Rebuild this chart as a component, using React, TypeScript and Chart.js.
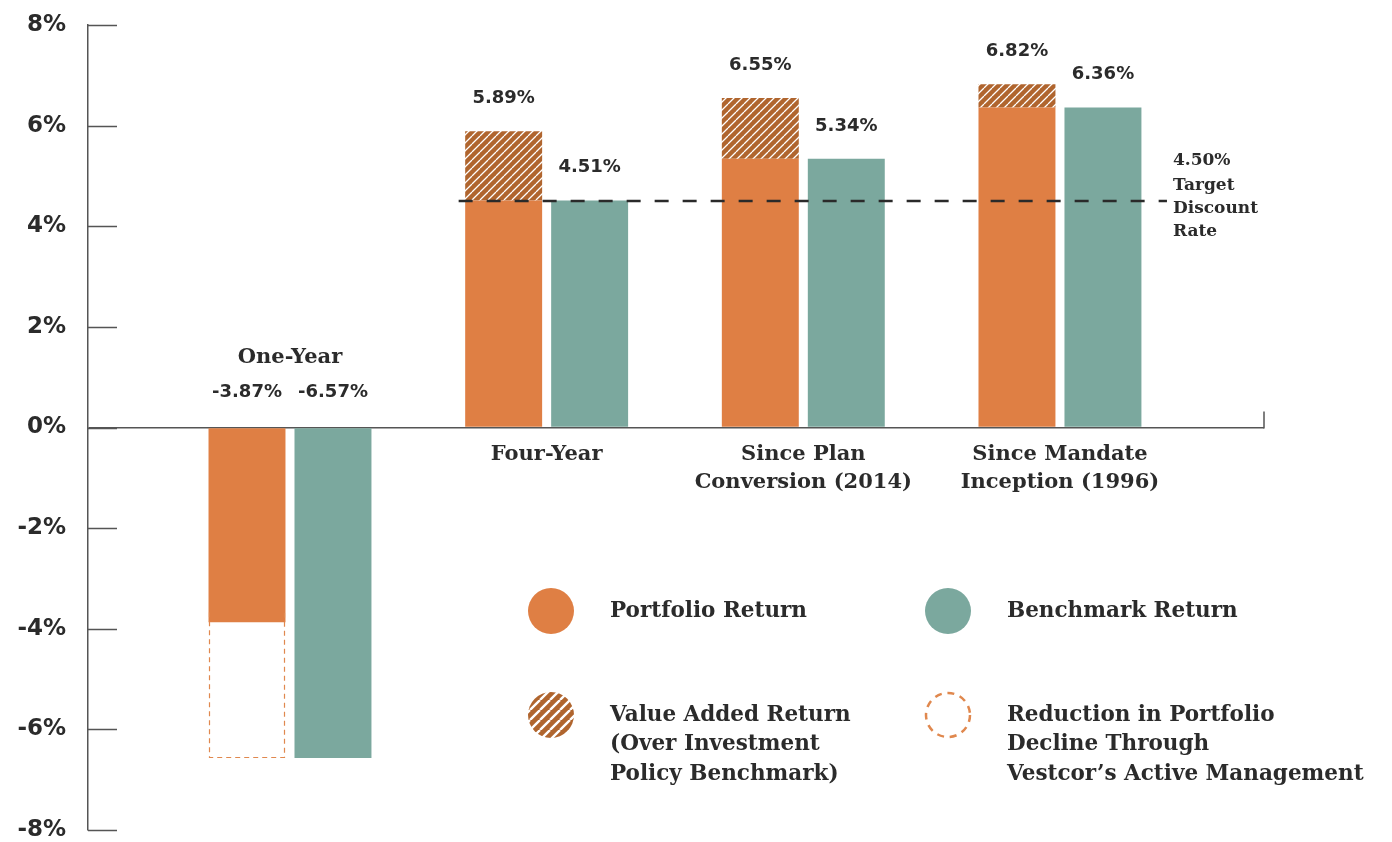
import React, { useEffect, useRef } from "react";
import { Chart, registerables } from "chart.js";
Chart.register(...registerables);

const categoryLines: string[][] = [
  ["One-Year"],
  ["Four-Year"],
  ["Since Plan", "Conversion (2014)"],
  ["Since Mandate", "Inception (1996)"],
];
const portfolioReturn = [-3.87, 5.89, 6.55, 6.82];
const benchmarkReturn = [-6.57, 4.51, 5.34, 6.36];
const targetDiscountRate = 4.5;
const targetLabelLines = ["4.50%", "Target", "Discount", "Rate"];
const yTicks = [-8, -6, -4, -2, 0, 2, 4, 6, 8];
const legendItems = [
  { kind: "solid-orange", lines: ["Portfolio Return"] },
  { kind: "solid-teal", lines: ["Benchmark Return"] },
  { kind: "hatch", lines: ["Value Added Return", "(Over Investment", "Policy Benchmark)"] },
  { kind: "dashed", lines: ["Reduction in Portfolio", "Decline Through", "Vestcor\u2019s Active Management"] },
];

const ORANGE = "#df7f44";
const TEAL = "#7ba89e";
const BROWN = "#b0652e";
const DASH_ORANGE = "#e0884e";
const TEXT = "#2b2b2b";
const AXIS = "#555555";
const SLAB = '"DejaVu Serif", serif';
const SANS = '"DejaVu Sans", sans-serif';

function makeHatch(period: number, lineW: number, bg: string, fg: string) {
  const c = document.createElement("canvas");
  c.width = period;
  c.height = period;
  const g = c.getContext("2d")!;
  g.fillStyle = bg;
  g.fillRect(0, 0, period, period);
  g.strokeStyle = fg;
  g.lineWidth = lineW;
  g.beginPath();
  for (let k = -1; k <= 1; k++) {
    g.moveTo(k * period, period);
    g.lineTo(k * period + period, 0);
  }
  g.stroke();
  return g.createPattern(c, "repeat")!;
}

export default function App() {
  const ref = useRef<HTMLCanvasElement>(null);
  useEffect(() => {
    const canvas = ref.current!;
    const ctx0 = canvas.getContext("2d")!;
    const barHatch = makeHatch(8, 1.3, BROWN, "#ffffff");
    const legendHatch = makeHatch(10, 2.4, BROWN, "#ffffff");

    const base = portfolioReturn.map((p, i) => (p >= 0 ? Math.min(p, benchmarkReturn[i]) : p));
    const added = portfolioReturn.map((p, i) => (p >= 0 && p > benchmarkReturn[i] ? p - benchmarkReturn[i] : 0));
    const reduction = portfolioReturn.map((p, i) => (p < 0 && benchmarkReturn[i] < p ? benchmarkReturn[i] - p : 0));
    const pts = (arr: number[]) => arr.map((v, i) => ({ x: i, y: v }));

    const decor = {
      id: "decor",
      beforeDatasetsDraw(chart: any) {
        const { ctx, chartArea, scales } = chart;
        const y = scales.y;
        ctx.save();
        ctx.strokeStyle = AXIS;
        ctx.lineWidth = 1.5;
        ctx.beginPath();
        for (const v of yTicks) {
          const py = Math.round(y.getPixelForValue(v)) + 0.5;
          ctx.moveTo(chartArea.left, py);
          ctx.lineTo(chartArea.left + 29, py);
        }
        const z = Math.round(y.getPixelForValue(0)) + 0.5;
        ctx.moveTo(chartArea.right, z);
        ctx.lineTo(chartArea.right, z - 17);
        ctx.stroke();
        ctx.restore();
      },
      afterDatasetsDraw(chart: any) {
        const { ctx, scales } = chart;
        const x = scales.x;
        const y = scales.y;
        const zero = y.getPixelForValue(0);
        ctx.save();
        // dashed outline for reduction segment
        const mRed = chart.getDatasetMeta(2);
        ctx.strokeStyle = DASH_ORANGE;
        ctx.lineWidth = 1.2;
        ctx.setLineDash([5, 4]);
        mRed.data.forEach((el: any, i: number) => {
          if (!reduction[i]) return;
          const p = el.getProps(["x", "y", "base", "width"], true);
          const left = Math.round(p.x - p.width / 2) + 0.5;
          const right = Math.round(p.x + p.width / 2) - 0.5;
          const top = Math.min(p.y, p.base) - 10;
          const bottom = Math.round(Math.max(p.y, p.base)) - 0.5;
          ctx.beginPath();
          ctx.moveTo(left, top);
          ctx.lineTo(left, bottom);
          ctx.lineTo(right, bottom);
          ctx.lineTo(right, top);
          ctx.stroke();
        });
        // target discount line
        const ty = y.getPixelForValue(targetDiscountRate);
        const x1 = x.getPixelForValue(1) - 88;
        const x2 = x.getPixelForValue(3) + 107;
        ctx.strokeStyle = "#2a2a2a";
        ctx.lineWidth = 2.5;
        ctx.setLineDash([14, 14]);
        ctx.beginPath();
        ctx.moveTo(x1, ty);
        ctx.lineTo(x2, ty);
        ctx.stroke();
        ctx.setLineDash([]);
        ctx.fillStyle = TEXT;
        ctx.textAlign = "left";
        ctx.textBaseline = "middle";
        ctx.font = `bold 17px ${SLAB}`;
        const tyLines = [ty - 41, ty - 16, ty + 7, ty + 30];
        targetLabelLines.forEach((t, k) => ctx.fillText(t, x2 + 6, tyLines[k]));

        // value labels
        const mBase = chart.getDatasetMeta(0);
        const mBench = chart.getDatasetMeta(3);
        ctx.font = `bold 18px ${SANS}`;
        ctx.textAlign = "center";
        portfolioReturn.forEach((v, i) => {
          const cx = mBase.data[i].x;
          const py = v >= 0 ? y.getPixelForValue(v) - 33 : zero - 35;
          ctx.fillText(v.toFixed(2) + "%", cx, py);
        });
        benchmarkReturn.forEach((v, i) => {
          const cx = mBench.data[i].x;
          const py = v >= 0 ? y.getPixelForValue(v) - 33 : zero - 35;
          ctx.fillText(v.toFixed(2) + "%", cx, py);
        });
        // category labels
        ctx.font = `bold 21px ${SLAB}`;
        categoryLines.forEach((lines, i) => {
          const cx = x.getPixelForValue(i);
          const neg = portfolioReturn[i] < 0;
          lines.forEach((t, k) => {
            const py = neg ? zero - 70 - (lines.length - 1 - k) * 28 : zero + 27 + k * 28;
            ctx.fillText(t, cx, py);
          });
        });
        ctx.restore();
      },
      afterDraw(chart: any) {
        const { ctx } = chart;
        ctx.save();
        const pos = [
          [551, 611],
          [948, 611],
          [551, 715],
          [948, 715],
        ];
        legendItems.forEach((it, i) => {
          const [cx, cy] = pos[i];
          ctx.beginPath();
          ctx.arc(cx, cy, 23, 0, Math.PI * 2);
          if (it.kind === "solid-orange") {
            ctx.fillStyle = ORANGE;
            ctx.fill();
          } else if (it.kind === "solid-teal") {
            ctx.fillStyle = TEAL;
            ctx.fill();
          } else if (it.kind === "hatch") {
            ctx.fillStyle = legendHatch;
            ctx.fill();
          } else {
            ctx.beginPath();
            ctx.arc(cx, cy, 22, 0, Math.PI * 2);
            ctx.strokeStyle = DASH_ORANGE;
            ctx.lineWidth = 2.5;
            ctx.setLineDash([7, 5.8]);
            ctx.stroke();
            ctx.setLineDash([]);
          }
          ctx.fillStyle = TEXT;
          ctx.font = `bold 21.5px ${SLAB}`;
          ctx.textAlign = "left";
          ctx.textBaseline = "middle";
          it.lines.forEach((t, k) => ctx.fillText(t, cx + 59, cy + k * 29.5));
        });
        ctx.restore();
      },
    };

    const chart = new Chart(ctx0, {
      type: "bar",
      data: {
        datasets: [
          { label: "Portfolio Return", data: pts(base), backgroundColor: ORANGE, stack: "p" },
          { label: "Value Added Return", data: pts(added), backgroundColor: barHatch as any, stack: "p" },
          { label: "Reduction", data: pts(reduction), backgroundColor: "rgba(0,0,0,0)", stack: "p" },
          { label: "Benchmark Return", data: pts(benchmarkReturn), backgroundColor: TEAL, stack: "b" },
        ] as any,
      },
      options: {
        responsive: false,
        animation: false,
        categoryPercentage: 0.67,
        barPercentage: 0.895,
        layout: { padding: { left: 0, right: 128, top: 25, bottom: 12 } },
        plugins: { legend: { display: false }, tooltip: { enabled: false } },
        scales: {
          x: {
            type: "linear",
            display: false,
            offset: false,
            min: -0.787,
            max: 3.795,
            ticks: { stepSize: 1, includeBounds: false },
          },
          y: {
            min: -8,
            max: 8,
            afterBuildTicks: (s: any) => {
              s.ticks = yTicks.map((v) => ({ value: v }));
            },
            afterFit: (s: any) => {
              s.width = 88;
            },
            ticks: {
              padding: 0,
              color: TEXT,
              font: { family: SANS, weight: "bold", size: 23, lineHeight: 1 },
              callback: (v: any) => v + "%",
            },
            grid: {
              drawTicks: true,
              tickLength: 22,
              tickColor: "rgba(0,0,0,0)",
              lineWidth: 1.5,
              color: (c: any) => (c.tick && c.tick.value === 0 ? AXIS : "rgba(0,0,0,0)"),
            },
            border: { display: true, color: AXIS, width: 1.5 },
          },
        },
      } as any,
      plugins: [decor],
    });
    return () => chart.destroy();
  }, []);
  return (
    <div style={{ position: "absolute", left: 0, top: 0, width: 1392, height: 842, background: "#fff" }}>
      <canvas ref={ref} width={1392} height={842} style={{ display: "block" }} />
    </div>
  );
}
